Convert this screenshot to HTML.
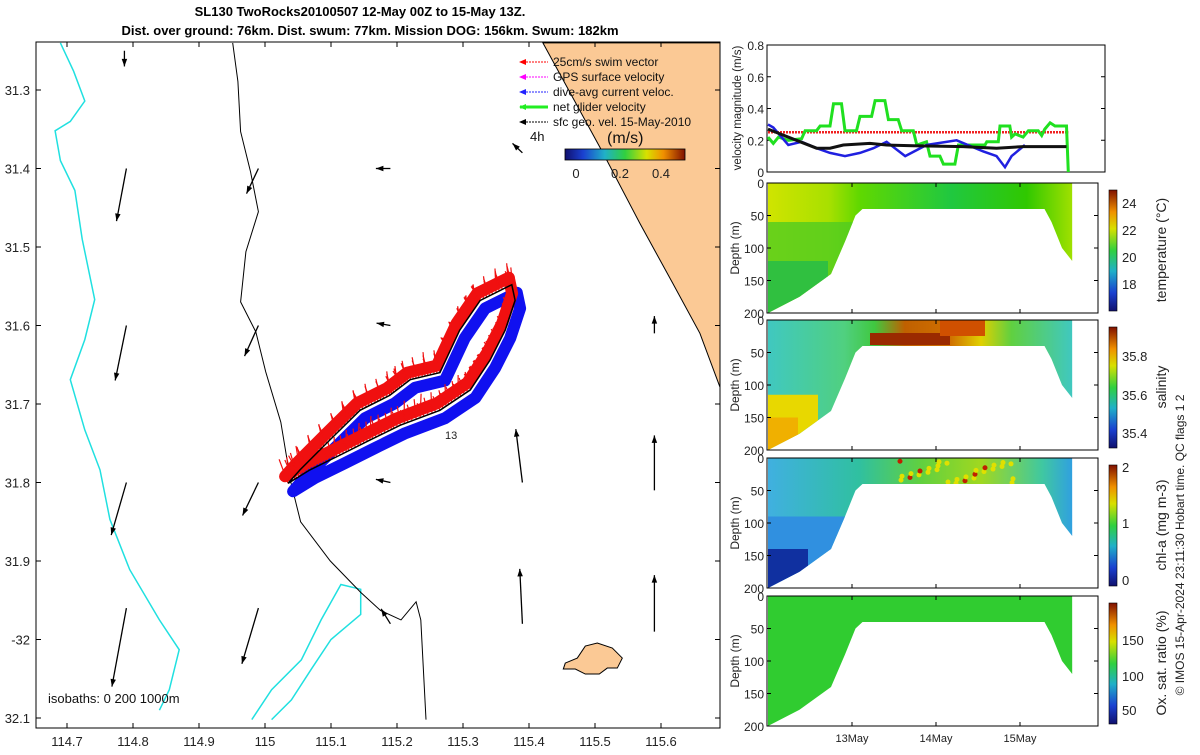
<!DOCTYPE html>
<html><head><meta charset="utf-8"><style>
body{margin:0;background:#fff}
svg text{font-family:"Liberation Sans",sans-serif}
</style></head><body>
<svg id="s" width="1200" height="750" xmlns="http://www.w3.org/2000/svg">
<defs>
<linearGradient id="jetV" x1="0" y1="1" x2="0" y2="0">
<stop offset="0" stop-color="#10106e"/><stop offset="0.15" stop-color="#1a40d0"/><stop offset="0.33" stop-color="#20b0c8"/><stop offset="0.5" stop-color="#30d040"/><stop offset="0.68" stop-color="#d8e000"/><stop offset="0.82" stop-color="#f09000"/><stop offset="1" stop-color="#801000"/></linearGradient>
<linearGradient id="jetH" x1="0" y1="0" x2="1" y2="0">
<stop offset="0" stop-color="#10106e"/><stop offset="0.15" stop-color="#1a40d0"/><stop offset="0.33" stop-color="#20b0c8"/><stop offset="0.5" stop-color="#30d040"/><stop offset="0.68" stop-color="#d8e000"/><stop offset="0.82" stop-color="#f09000"/><stop offset="1" stop-color="#801000"/></linearGradient>
<linearGradient id="gT" x1="0" y1="0" x2="1" y2="0"><stop offset="0" stop-color="#d0e400"/><stop offset="0.2" stop-color="#a8e000"/><stop offset="0.3" stop-color="#60d800"/><stop offset="0.6" stop-color="#20c840"/><stop offset="0.85" stop-color="#30c800"/><stop offset="1" stop-color="#a0e000"/></linearGradient>
<linearGradient id="gS" x1="0" y1="0" x2="1" y2="0"><stop offset="0" stop-color="#40c8c0"/><stop offset="0.25" stop-color="#50d080"/><stop offset="0.35" stop-color="#40c840"/><stop offset="0.45" stop-color="#c06000"/><stop offset="0.6" stop-color="#d07000"/><stop offset="0.7" stop-color="#e0d000"/><stop offset="0.8" stop-color="#60d040"/><stop offset="1" stop-color="#40c8c0"/></linearGradient>
<linearGradient id="gC" x1="0" y1="0" x2="1" y2="0"><stop offset="0" stop-color="#40b0e0"/><stop offset="0.3" stop-color="#30c0a0"/><stop offset="0.5" stop-color="#60d040"/><stop offset="0.7" stop-color="#a0d820"/><stop offset="0.9" stop-color="#40c8a0"/><stop offset="1" stop-color="#30a0e0"/></linearGradient>
</defs>
</svg>
<script>
const NS='http://www.w3.org/2000/svg';
const svg=document.getElementById('s');
function mk(tag,attrs,parent,txt){const e=document.createElementNS(NS,tag);for(const k in attrs)e.setAttribute(k,attrs[k]);if(txt!==undefined)e.textContent=txt;(parent||svg).appendChild(e);return e;}

// ---------- data ----------
const velGreenT=[0,1.5,3,5.8,9.6,10.6,13.9,14.9,17.7,18.7,21,22,25.3,26.3,29.6,30.6,33.4,34.4,37.2,38.2,41.5,42.5,45.3,46.3,49.1,50.1,53.4,54.4,62,62.5,65.8,66.3,69.1,69.6,70.6,72.9,74.4,77.2,78.2,79.1,80.6,82,85.3,85.8];
const velGreenV=[0.22,0.18,0.22,0.2,0.21,0.26,0.26,0.29,0.29,0.43,0.43,0.26,0.26,0.35,0.35,0.45,0.45,0.33,0.33,0.26,0.26,0.17,0.19,0.1,0.1,0.05,0.05,0.17,0.17,0.19,0.19,0.29,0.29,0.22,0.24,0.22,0.26,0.26,0.23,0.27,0.31,0.29,0.29,0];
const velBlueT=[0,1.5,5.8,9.6,13.9,17.7,22,26.3,30.1,33.9,39.2,45.3,53.9,61.5,65.3,67.7,69.6,73.4];
const velBlueV=[0.3,0.28,0.17,0.19,0.15,0.12,0.1,0.12,0.15,0.19,0.1,0.17,0.2,0.13,0.1,0.03,0.1,0.17];
const velBlackT=[0,8.1,13.9,17.7,21.5,29.1,33.9,41.5,55.8,65.3,72.9,85.3];
const velBlackV=[0.27,0.2,0.15,0.15,0.17,0.18,0.17,0.165,0.16,0.15,0.16,0.16];
const velRedT=[0,85.8];
const velRedV=[0.25,0.25];
const velTicks=[0,0.2,0.4,0.6,0.8];
const dayTicks=[24,48,72];
const dayLabels=['13May','14May','15May'];
const bottomT=[0,9,18,22,25,27,79,81,84,86.9];
const bottomD=[200,175,140,90,50,40,40,60,100,120];
const endT=86.9;
const depthTicks=[0,50,100,150,200];
const lonTicks=[114.7,114.8,114.9,115,115.1,115.2,115.3,115.4,115.5,115.6];
const lonLabels=['114.7','114.8','114.9','115','115.1','115.2','115.3','115.4','115.5','115.6'];
const latTicks=[31.3,31.4,31.5,31.6,31.7,31.8,31.9,32,32.1];
const latLabels=['31.3','31.4','31.5','31.6','31.7','31.8','31.9','-32','32.1'];
const trackLon=[115.035,115.068,115.114,115.159,115.205,115.265,115.311,115.341,115.364,115.379,115.374,115.326,115.295,115.265,115.220,115.189,115.144,115.098,115.053];
const trackLat=[31.801,31.784,31.765,31.746,31.727,31.708,31.682,31.644,31.606,31.568,31.548,31.568,31.606,31.660,31.669,31.689,31.708,31.746,31.784];
const arrLon=[114.787,114.79,114.79,114.79,114.79,114.99,114.99,114.99,114.99,115.19,115.19,115.19,115.19,115.39,115.39,115.39,115.59,115.59,115.59];
const arrLat=[31.25,31.4,31.6,31.8,31.96,31.4,31.6,31.8,31.96,31.4,31.6,31.8,31.98,31.38,31.8,31.98,31.61,31.81,31.99];
const arrU=[0,-0.015,-0.017,-0.023,-0.022,-0.018,-0.021,-0.024,-0.025,-0.022,-0.021,-0.022,-0.014,-0.015,-0.01,-0.004,0,0,0];
const arrV=[0.02,0.067,0.07,0.067,0.1,0.032,0.039,0.042,0.071,0,-0.003,-0.004,-0.019,-0.012,-0.068,-0.07,-0.022,-0.07,-0.072];
const landLon=[115.421,115.512,115.568,115.617,115.659,115.69,115.72,115.72];
const landLat=[31.24,31.38,31.47,31.545,31.61,31.68,31.68,31.24];
const cyanLon=[114.69,114.71,114.727,114.705,114.682,114.69,114.712,114.723,114.742,114.727,114.705,114.727,114.75,114.765,114.795,114.84,114.87,114.855,114.84];
const cyanLat=[31.24,31.276,31.314,31.34,31.352,31.39,31.428,31.49,31.567,31.618,31.669,31.733,31.784,31.847,31.911,31.975,32.013,32.064,32.09];
const cyan2Lon=[114.98,115.01,115.055,115.085,115.115,115.145,115.145,115.1,115.07,115.04,115.01];
const cyan2Lat=[32.102,32.064,32.026,31.975,31.93,31.936,31.968,32.0,32.038,32.077,32.102];
const isoLon=[114.951,114.959,114.963,114.978,114.99,114.971,114.963,114.986,115.001,115.024,115.039,115.054,115.099,115.145,115.175,115.206,115.229,115.236,115.244];
const isoLat=[31.24,31.289,31.353,31.404,31.455,31.506,31.57,31.608,31.659,31.723,31.799,31.85,31.9,31.94,31.963,31.975,31.952,31.975,32.102];

// ---------- MAP ----------
const M={l:36,t:42,r:720,b:728};
const X=lon=>67+(lon-114.7)*660;
const Y=lat=>90+(lat-31.3)*785;
const map=mk('g',{});
mk('clipPath',{id:'mc'},map);
mk('rect',{x:M.l,y:M.t,width:M.r-M.l,height:M.b-M.t},document.getElementById('mc'));
const mg=mk('g',{'clip-path':'url(#mc)'},map);
function poly(lons,lats,attrs,par,closed){const pts=lons.map((l,i)=>X(l).toFixed(1)+','+Y(lats[i]).toFixed(1)).join(' ');return mk(closed?'polygon':'polyline',Object.assign({points:pts},attrs),par);}
const land=poly(landLon,landLat,{fill:'#fbc995',stroke:'#000','stroke-width':1},mg,true);

const isl=mk('path',{d:`M${X(115.455)},${Y(32.03)} l12,-5 8,-12 12,-3 15,5 10,10 -5,10 -10,0 -8,6 -14,0 -10,-5 -12,0 z`,fill:'#fbc995',stroke:'#000','stroke-width':1},mg);

const c1=poly(cyanLon,cyanLat,{fill:'none',stroke:'#20e0e0','stroke-width':1.5},mg);

const c2=poly(cyan2Lon,cyan2Lat,{fill:'none',stroke:'#20e0e0','stroke-width':1.5},mg);

const ib=poly(isoLon,isoLat,{fill:'none',stroke:'#000','stroke-width':1},mg);

const tb=poly(trackLon,trackLat,{fill:'none',stroke:'#1010f0','stroke-width':12,'stroke-linejoin':'round',transform:'translate(5,8)'},mg,true);

const tr=poly(trackLon,trackLat,{fill:'none',stroke:'#f01010','stroke-width':12,'stroke-linejoin':'round',transform:'translate(-3,-7)'},mg,true);

for(let i=0;i<trackLon.length;i++){const j=(i+1)%trackLon.length;for(let k=0;k<10;k++){const f=k/10;const x=X(trackLon[i]+(trackLon[j]-trackLon[i])*f),y=Y(trackLat[i]+(trackLat[j]-trackLat[i])*f);
 const v=mk('line',{x1:x,y1:y,x2:x-4+((i*7+k*3)%11)-5,y2:y-24+((i*5+k*11)%15),stroke:'#f01010','stroke-width':1.2},mg);
 }}
const tk=poly(trackLon,trackLat,{fill:'none',stroke:'#000','stroke-width':1.5},mg,true);

for(let i=0;i<arrLon.length;i++){const x0=X(arrLon[i]),y0=Y(arrLat[i]);const x1=x0+arrU[i]*660,y1=y0+arrV[i]*785;
 const a=mk('g',{},mg);
 mk('line',{x1:x0,y1:y0,x2:x1,y2:y1,stroke:'#000','stroke-width':1.3},a);
 const ang=Math.atan2(y1-y0,x1-x0);const h=8;
 mk('polygon',{points:`${x1},${y1} ${x1-h*Math.cos(ang-0.35)},${y1-h*Math.sin(ang-0.35)} ${x1-h*Math.cos(ang+0.35)},${y1-h*Math.sin(ang+0.35)}`,fill:'#000'},a);}
mk('rect',{x:M.l,y:M.t,width:M.r-M.l,height:M.b-M.t,fill:'none',stroke:'#000','stroke-width':1},map);
lonTicks.forEach((v,i)=>{const x=X(v);mk('line',{x1:x,y1:M.b,x2:x,y2:M.b-5,stroke:'#000'},map);mk('line',{x1:x,y1:M.t,x2:x,y2:M.t+5,stroke:'#000'},map);
 const t=mk('text',{x:x,y:746,'font-size':13,'text-anchor':'middle',fill:'#222'},map,lonLabels[i]);});
latTicks.forEach((v,i)=>{const y=Y(v);mk('line',{x1:M.l,y1:y,x2:M.l+5,y2:y,stroke:'#000'},map);mk('line',{x1:M.r,y1:y,x2:M.r-5,y2:y,stroke:'#000'},map);
 const t=mk('text',{x:30,y:y+5,'font-size':13,'text-anchor':'end',fill:'#222'},map,latLabels[i]);});
mk('text',{x:48,y:703,'font-size':13,fill:'#111',},map,'isobaths: 0   200  1000m');
mk('text',{x:530,y:141,'font-size':13,fill:'#111',},map,'4h');
mk('text',{x:445,y:439,'font-size':11,fill:'#222'},map,'13');
const lg=mk('g',{});
const legItems=[['25cm/s swim vector','#f00',1],['GPS surface velocity','#f0f',1],['dive-avg current veloc.','#22f',1],['net glider velocity','#2e2',3],['sfc geo. vel. 15-May-2010','#000',1]];
legItems.forEach((it,i)=>{const y=62+i*15;const g=mk('g',{},lg);
 mk('line',{x1:520,y1:y,x2:548,y2:y,stroke:it[1],'stroke-width':it[2],'stroke-dasharray':it[2]>1?'':'2,1'},g);
 mk('polygon',{points:`519,${y} 526,${y-3} 526,${y+3}`,fill:it[1]},g);
 mk('text',{x:553,y:y+4,'font-size':12,fill:'#111'},g,it[0]);});
mk('text',{x:607,y:143,'font-size':16,fill:'#111',},lg,'(m/s)');
mk('rect',{x:565,y:149,width:120,height:11,fill:'url(#jetH)',stroke:'#000','stroke-width':0.8,},lg);
[['0',576],['0.2',620],['0.4',661]].forEach(a=>mk('text',{x:a[1],y:178,'font-size':13,'text-anchor':'middle',fill:'#222'},lg,a[0]));

mk('text',{x:360,y:16,'font-size':13,'font-weight':'bold','text-anchor':'middle',fill:'#000',},svg,'SL130 TwoRocks20100507 12-May 00Z to 15-May 13Z.');
mk('text',{x:370,y:35,'font-size':13,'font-weight':'bold','text-anchor':'middle',fill:'#000',},svg,'Dist. over ground: 76km. Dist. swum: 77km. Mission DOG: 156km. Swum: 182km');

// ---------- velocity panel ----------
const T=h=>768+h/24*84;
const V={l:767,t:45,r:1105,b:172};
const VY=v=>V.b-v/0.8*(V.b-V.t);
const vp=mk('g',{});
mk('rect',{x:V.l,y:V.t,width:V.r-V.l,height:V.b-V.t,fill:'#fff',stroke:'#000'},vp);
velTicks.forEach(v=>{const y=VY(v);mk('line',{x1:V.l,y1:y,x2:V.l+4,y2:y,stroke:'#000'},vp);mk('line',{x1:V.r,y1:y,x2:V.r-4,y2:y,stroke:'#000'},vp);
 const t=mk('text',{x:V.l-3,y:y+5,'font-size':12,'text-anchor':'end',fill:'#222'},vp,String(v));});
function vline(ts,vs,col,w,name,dash){const l=mk('polyline',{points:ts.map((t,i)=>T(t).toFixed(1)+','+VY(vs[i]).toFixed(1)).join(' '),fill:'none',stroke:col,'stroke-width':w},vp);if(dash)l.setAttribute('stroke-dasharray',dash);}
vline(velRedT,velRedV,'#f02020',2.5,'swim-speed-line','2,1');
vline(velGreenT,velGreenV,'#20e020',3,'net-glider-velocity-line');
vline(velBlueT,velBlueV,'#2020e0',2.5,'dive-avg-current-line');
vline(velBlackT,velBlackV,'#111',3,'geo-velocity-line');
mk('text',{transform:'translate(741,108) rotate(-90)','font-size':11.5,'text-anchor':'middle',fill:'#222',},vp,'velocity magnitude (m/s)');

// ---------- section panels ----------
const panels=[
 {t:183,fill:'url(#gT)',name:'temperature',label:'temperature (°C)',ct:[24,22,20,18],cy:[203,230,257,284]},
 {t:320,fill:'url(#gS)',name:'salinity',label:'salinity',ct:[35.8,35.6,35.4],cy:[356,395,433]},
 {t:458,fill:'url(#gC)',name:'chlorophyll',label:'chl-a (mg m-3)',ct:[2,1,0],cy:[467,523,580]},
 {t:596,fill:'#30cc30',name:'oxygen',label:'Ox. sat. ratio (%)',ct:[150,100,50],cy:[640,676,710]}];
panels.forEach((p,pi)=>{
 const H=130;const D=d=>p.t+d/200*H;
 const g=mk('g',{},svg);
 const pts=[T(0)+','+D(0),T(endT)+','+D(0)];
 for(let i=bottomT.length-1;i>=0;i--)pts.push(T(bottomT[i]).toFixed(1)+','+D(bottomD[i]).toFixed(1));
 mk('polygon',{points:pts.join(' '),fill:p.fill},g);
 const cid='cp'+pi;const cp=mk('clipPath',{id:cid},g);mk('polygon',{points:pts.join(' ')},cp);
 const cg=mk('g',{'clip-path':`url(#${cid})`},g);
 if(pi===0){mk('rect',{x:768,y:D(60),width:90,height:H,fill:'#50cc20',opacity:0.8},cg);mk('rect',{x:768,y:D(120),width:60,height:H,fill:'#30c040'},cg);}
 if(pi===1){mk('rect',{x:768,y:D(115),width:50,height:H,fill:'#e8d800'},cg);mk('rect',{x:768,y:D(150),width:30,height:H,fill:'#f0b000'},cg);mk('rect',{x:870,y:D(20),width:80,height:12,fill:'#9a2a00'},cg);mk('rect',{x:940,y:D(0),width:45,height:16,fill:'#d05000'},cg);}
 if(pi===2){mk('rect',{x:768,y:D(90),width:80,height:H,fill:'#3090e0'},cg);mk('rect',{x:768,y:D(140),width:40,height:H,fill:'#1030a0'},cg);
  for(let k=0;k<30;k++){mk('circle',{cx:900+((k*37)%120),cy:D(5+((k*13)%35)),r:2.5,fill:k%5===0?'#c02000':'#e0e000'},cg);}}
 mk('rect',{x:767,y:p.t,width:331,height:H,fill:'none',stroke:'#000'},g);
 depthTicks.forEach(d=>{const y=D(d);mk('line',{x1:767,y1:y,x2:771,y2:y,stroke:'#000'},g);mk('line',{x1:1098,y1:y,x2:1094,y2:y,stroke:'#000'},g);
  const t=mk('text',{x:764,y:y+5,'font-size':12,'text-anchor':'end',fill:'#222'},g,String(d));});
 dayTicks.forEach(h=>{mk('line',{x1:T(h),y1:p.t+H,x2:T(h),y2:p.t+H-4,stroke:'#000'},g);mk('line',{x1:T(h),y1:p.t,x2:T(h),y2:p.t+4,stroke:'#000'},g);});
 mk('text',{transform:`translate(739,${p.t+65}) rotate(-90)`,'font-size':12,'text-anchor':'middle',fill:'#222',},g,'Depth (m)');
 const cb=mk('rect',{x:1109,y:p.t+7,width:8,height:H-9,fill:'url(#jetV)',stroke:'#000','stroke-width':0.6},g);
 p.ct.forEach((v,i)=>{const t=mk('text',{x:1122,y:p.cy[i]+5,'font-size':13,fill:'#222'},g,String(v));});
 mk('text',{transform:`translate(1166,${p.t+67}) rotate(-90)`,'font-size':14,'text-anchor':'middle',fill:'#222',},g,p.label);
});
dayTicks.forEach((h,i)=>{const t=mk('text',{x:T(h),y:742,'font-size':11,'text-anchor':'middle',fill:'#222'},svg,dayLabels[i]);});
mk('text',{transform:'translate(1184,545) rotate(-90)','font-size':12,'text-anchor':'middle',fill:'#222',},svg,'© IMOS 15-Apr-2024 23:11:30 Hobart time. QC flags 1  2');
</script>
</body></html>
